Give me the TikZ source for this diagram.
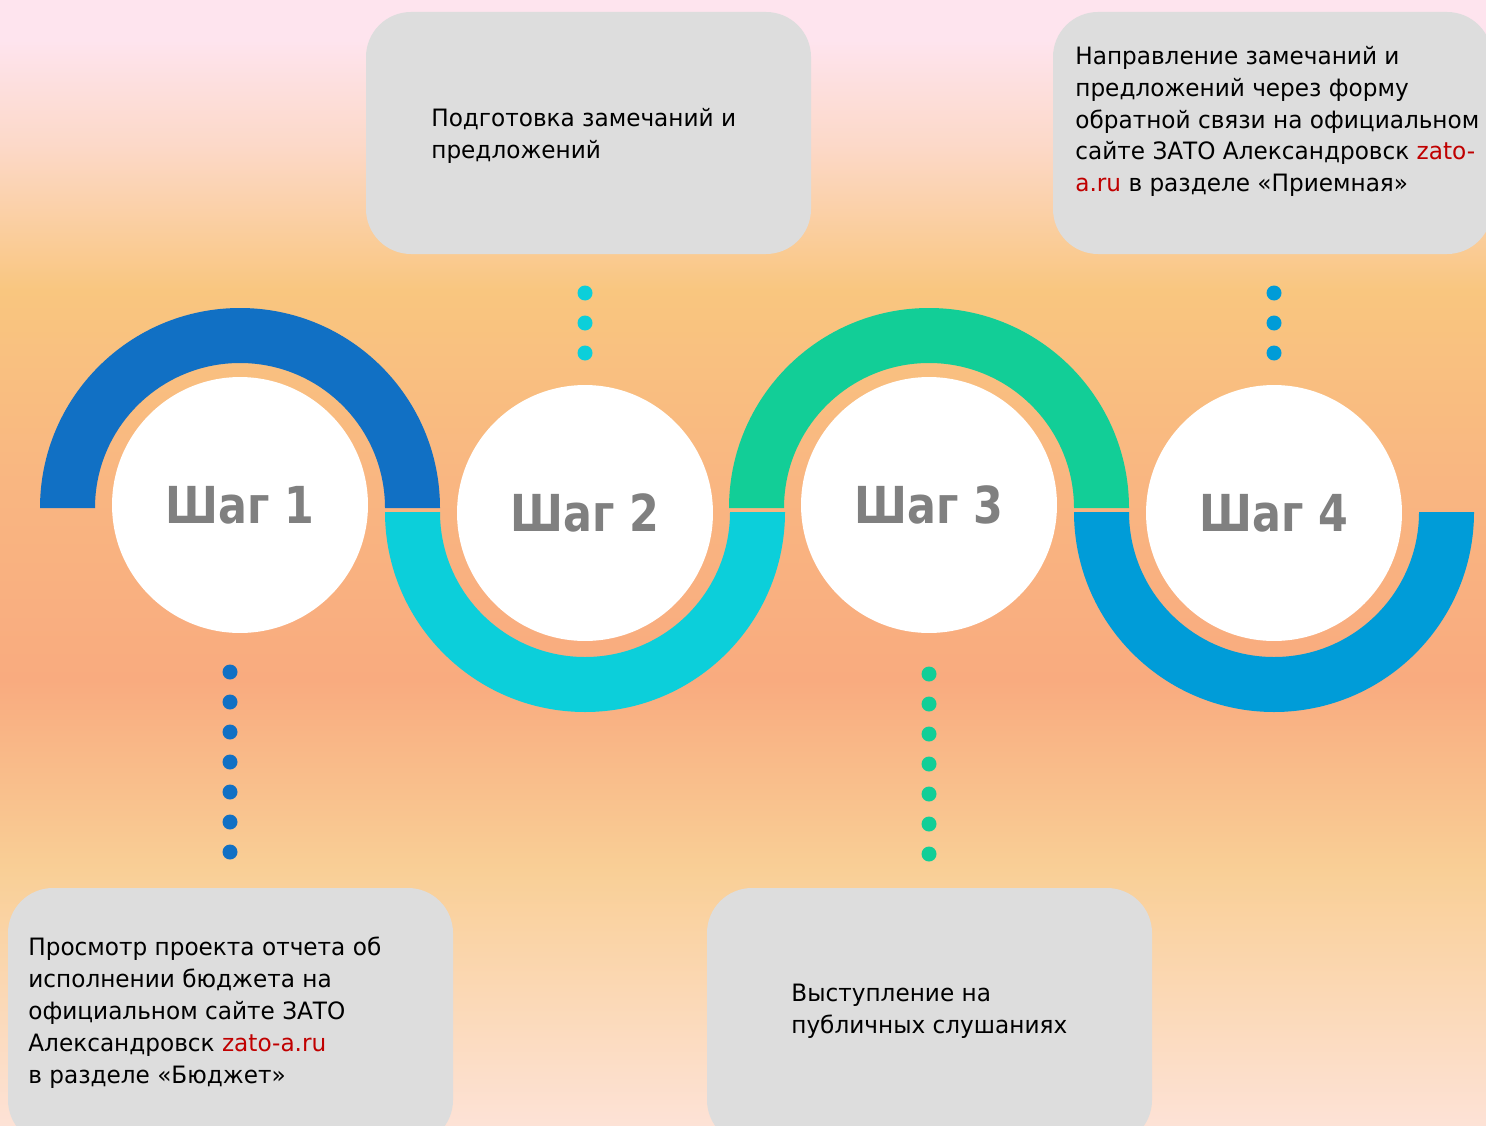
\documentclass[tikz,border=0pt]{standalone}
\usepackage{fontspec}
\setmainfont{DejaVu Sans}[FakeStretch=0.97, BoldFeatures={FakeStretch=0.84}]
\definecolor{arcA}{HTML}{1170C4}
\definecolor{arcB}{HTML}{0CCFDA}
\definecolor{arcC}{HTML}{12CE97}
\definecolor{arcD}{HTML}{009CD8}
\definecolor{boxgray}{HTML}{DDDDDD}
\definecolor{labelgray}{HTML}{808080}
\definecolor{linkred}{HTML}{C00000}
\definecolor{bgA}{HTML}{FEE4EE}
\definecolor{bgB}{HTML}{FCD8C6}
\definecolor{bgC}{HTML}{F9C67F}
\definecolor{bgD}{HTML}{F9B681}
\definecolor{bgE}{HTML}{F9AB7F}
\definecolor{bgF}{HTML}{F9CF96}
\definecolor{bgG}{HTML}{FDE2D6}
\tikzset{
	stepcirc/.style={circle, fill=white, minimum size=5.12cm, inner sep=0pt, text=labelgray, font=\bfseries\fontsize{29}{29}\selectfont},
	infobox/.style={fill=boxgray, rounded corners=0.9cm},
	infotext/.style={anchor=north west, inner sep=0pt, align=left, font=\fontsize{13.6}{18.1}\selectfont},
}

\begin{document}
\begin{tikzpicture}[x=0.02cm, y=0.02cm]
	\useasboundingbox (0,0) rectangle (1486,-1125);
	\fill[bgA] (0,0) rectangle (1486,-41);
	\shade[top color=bgA, bottom color=bgB] (0,-40) rectangle (1486,-151);
	\shade[top color=bgB, bottom color=bgC] (0,-150) rectangle (1486,-291);
	\shade[top color=bgC, bottom color=bgD] (0,-290) rectangle (1486,-481);
	\shade[top color=bgD, bottom color=bgE] (0,-480) rectangle (1486,-681);
	\shade[top color=bgE, bottom color=bgF] (0,-680) rectangle (1486,-871);
	\shade[top color=bgF, bottom color=bgG] (0,-870) rectangle (1486,-1125);
	
	\fill[infobox] (366,-12) rectangle (811,-254);
	\fill[infobox] (1053,-12) rectangle (1492,-254);
	\fill[infobox] (8,-888) rectangle (453,-1145);
	\fill[infobox] (707,-888) rectangle (1152,-1145);
	
	\fill[arcA] (40,-508) arc[start angle=180, end angle=0, radius=200] -- (385,-508) arc[start angle=0, end angle=180, radius=145] -- cycle;
	\fill[arcB] (385,-512) arc[start angle=180, end angle=360, radius=200] -- (730,-512) arc[start angle=0, end angle=-180, radius=145] -- cycle;
	\fill[arcC] (729,-508) arc[start angle=180, end angle=0, radius=200] -- (1074,-508) arc[start angle=0, end angle=180, radius=145] -- cycle;
	\fill[arcD] (1074,-512) arc[start angle=180, end angle=360, radius=200] -- (1419,-512) arc[start angle=0, end angle=-180, radius=145] -- cycle;
	
	\node[stepcirc] (s1) at (240,-505) {Шаг 1};
	\node[stepcirc] (s2) at (585,-513) {Шаг 2};
	\node[stepcirc] (s3) at (929,-505) {Шаг 3};
	\node[stepcirc] (s4) at (1274,-513) {Шаг 4};
	
	\foreach \y in {672,702,...,852} \fill[arcA] (230,-\y) circle[radius=7.5];
	\foreach \y in {293,323,353} \fill[arcB] (585,-\y) circle[radius=7.5];
	\foreach \y in {674,704,...,854} \fill[arcC] (929,-\y) circle[radius=7.5];
	\foreach \y in {293,323,353} \fill[arcD] (1274,-\y) circle[radius=7.5];
	
	\node[infotext] (t1) at (28,-937) {Просмотр проекта отчета об\\исполнении бюджета на\\официальном сайте ЗАТО\\Александровск \textcolor{linkred}{zato-a.ru}\\в разделе «Бюджет»};
	\node[infotext] (t2) at (431,-108) {Подготовка замечаний и\\предложений};
	\node[infotext] (t3) at (791,-984) {Выступление на\\публичных слушаниях};
	\node[infotext] (t4) at (1075,-46) {Направление замечаний и\\предложений через форму\\обратной связи на официальном\\сайте ЗАТО Александровск \textcolor{linkred}{zato-}\\\textcolor{linkred}{a.ru} в разделе «Приемная»};
\end{tikzpicture}
\end{document}
